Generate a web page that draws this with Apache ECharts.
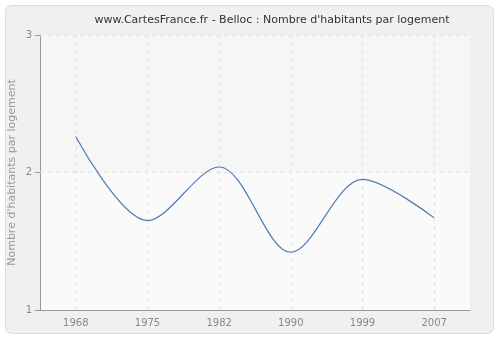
<!DOCTYPE html>
<html><head><meta charset="utf-8">
<script src="https://cdn.jsdelivr.net/npm/echarts@6/dist/echarts.min.js"></script>
<style>html,body{margin:0;padding:0;background:#fff}#c{width:500px;height:340px}</style>
</head><body><div id="c"></div>
<script>
const titleText = "www.CartesFrance.fr - Belloc : Nombre d'habitants par logement";
const yAxisName = "Nombre d'habitants par logement";
const years = ['1968', '1975', '1982', '1990', '1999', '2007'];
const values = [2.26, 1.65, 2.04, 1.42, 1.95, 1.67];
const yTicks = [1, 2, 3];

const chart = echarts.init(document.getElementById('c'), null, {renderer: 'canvas'});
const dash = {color: '#e2e2e2', type: [4, 4], width: 1};
chart.setOption({
  animation: false,
  backgroundColor: '#ffffff',
  graphic: [{
    type: 'rect', z: -10, silent: true,
    shape: {x: 5.5, y: 5.5, width: 488, height: 328, r: 6},
    style: {fill: '#f0f0f0', stroke: '#dcdcdc', lineWidth: 1}
  }],
  title: {
    text: titleText, left: 267, top: 10, textAlign: 'center',
    textStyle: {fontFamily: 'DejaVu Sans', fontSize: 11, fontWeight: 'normal', color: '#333'}
  },
  grid: {left: 40, right: 30, top: 35, bottom: 30, show: true,
    outerBoundsMode: 'none', containLabel: false,
    backgroundColor: '#fafafa', borderWidth: 0},
  xAxis: {
    type: 'category', data: years, boundaryGap: true,
    axisLine: {lineStyle: {color: '#999'}},
    axisTick: {alignWithLabel: true, length: 5, lineStyle: {color: '#999'}},
    axisLabel: {color: '#888', fontFamily: 'DejaVu Sans', fontSize: 10, margin: 8},
    splitLine: {show: false}
  },
  yAxis: {
    type: 'value', min: yTicks[0], max: yTicks[yTicks.length - 1], interval: 1,
    name: yAxisName, nameLocation: 'middle', nameGap: 22, nameMoveOverlap: false,
    nameTextStyle: {color: '#999', fontFamily: 'DejaVu Sans', fontSize: 11},
    axisLine: {show: true, lineStyle: {color: '#999'}},
    axisTick: {show: true, length: 5, lineStyle: {color: '#999'}},
    axisLabel: {color: '#888', fontFamily: 'DejaVu Sans', fontSize: 10, margin: 8},
    splitLine: {show: false}
  },
  series: [{
    type: 'line', data: values, smooth: 0.33, showSymbol: false,
    lineStyle: {color: '#4f7bb0', width: 1.2},
    z: 5,
    markArea: {silent: true, z: 0, itemStyle: {color: '#f6f6f6'},
      data: [[{yAxis: yTicks[1]}, {yAxis: yTicks[2]}]]},
    markLine: {silent: true, symbol: 'none', label: {show: false},
      lineStyle: dash,
      data: years.map(y => ({xAxis: y})).concat([{yAxis: yTicks[1]}, {yAxis: yTicks[2]}])}
  }]
});
</script></body></html>
